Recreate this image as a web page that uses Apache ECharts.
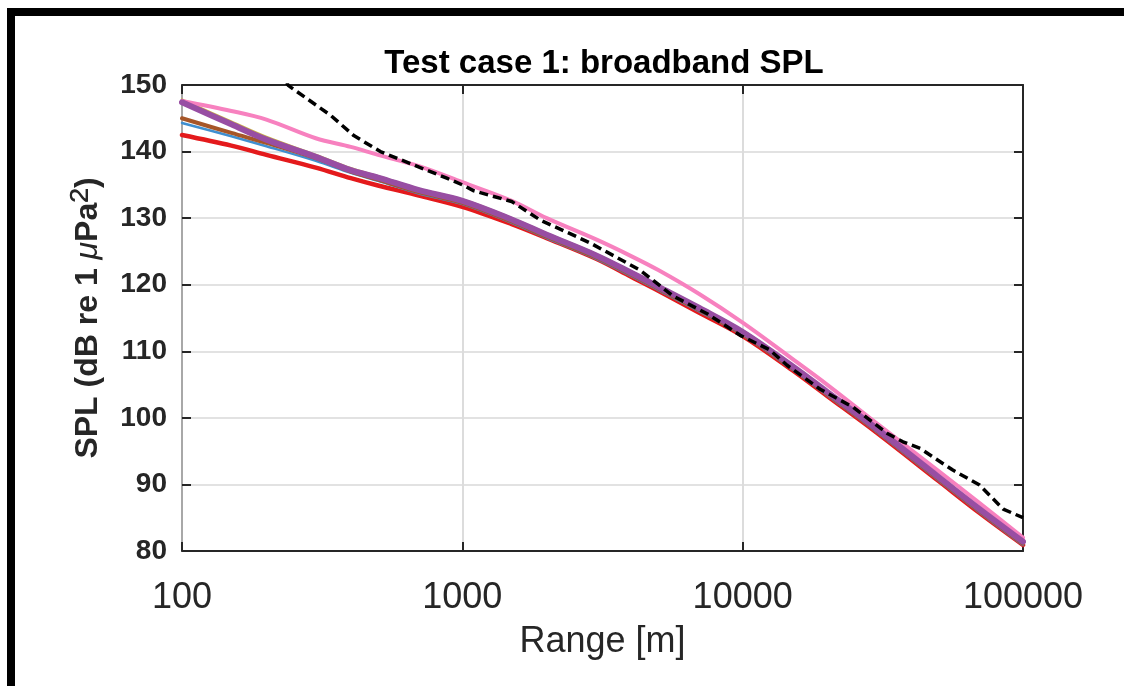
<!DOCTYPE html>
<html>
<head>
<meta charset="utf-8">
<title>Test case 1: broadband SPL</title>
<script src="https://cdn.jsdelivr.net/npm/echarts@6/dist/echarts.min.js"></script>
<style>
  html, body { margin: 0; padding: 0; background: #fff; }
  #chart { width: 1124px; height: 686px; }
</style>
</head>
<body>
<div id="chart"></div>
<script>
// Range samples (m) shared by the model curves
const ranges = [100, 150, 200, 300, 400, 500, 700, 1000, 1500, 2000, 3000, 4000, 5000, 7000, 10000, 15000, 20000, 30000, 50000, 70000, 100000];

// Broadband SPL (dB re 1 uPa^2) per model
const splRed    = [142.5, 140.9, 139.5, 137.6, 136.0, 134.9, 133.4, 131.7, 129.1, 127.0, 123.9, 121.2, 119.1, 115.8, 112.3, 107.2, 103.3, 97.8, 90.5, 85.7, 80.9];
const splBlue   = [144.3, 142.3, 140.8, 138.6, 136.8, 135.6, 133.7, 132.1, 129.3, 127.0, 123.9, 121.3, 119.2, 116.0, 112.4, 107.3, 103.4, 97.9, 90.6, 85.8, 80.9];
const splYellow = [147.8, 144.5, 142.2, 139.5, 137.5, 136.3, 134.4, 132.8, 130.0, 127.7, 124.6, 122.0, 119.9, 116.7, 113.1, 108.0, 104.1, 98.6, 91.3, 86.5, 81.6];
const splBrown  = [145.0, 142.8, 141.3, 139.0, 137.0, 135.8, 133.9, 132.3, 129.5, 127.2, 124.1, 121.5, 119.4, 116.2, 112.6, 107.5, 103.6, 98.1, 90.8, 86.0, 81.1];
const splPink   = [147.6, 146.1, 144.8, 142.0, 140.7, 139.5, 137.8, 135.4, 132.6, 130.0, 126.8, 124.3, 122.2, 118.6, 114.3, 108.9, 105.0, 99.2, 92.0, 87.2, 82.0];
const splPurple = [147.4, 144.1, 141.8, 139.2, 137.2, 136.1, 134.2, 132.6, 129.8, 127.5, 124.4, 121.8, 119.7, 116.5, 112.9, 107.8, 103.9, 98.4, 91.1, 86.3, 81.4];

// Measured (reference) SPL, black dashed
const measRanges = [220, 240, 340, 410, 510, 670, 880, 1000, 1100, 1500, 1900, 2850, 4300, 5650, 7500, 9800, 12500, 14400, 18900, 24800, 32700, 37300, 43000, 56000, 70000, 85000, 100000];
const measSpl    = [152.0, 149.9, 145.4, 142.4, 140.0, 138.0, 136.0, 135.0, 134.1, 132.5, 129.7, 126.3, 122.2, 118.3, 115.6, 112.4, 110.2, 107.9, 104.3, 101.6, 97.7, 96.4, 95.4, 92.2, 89.9, 86.3, 85.0];

// Axis ticks
const xTicks = [100, 1000, 10000, 100000];
const yMin = 80, yMax = 150, yStep = 10;

const FONT = '"Liberation Sans", Arial, Helvetica, sans-serif';
const AXIS_DARK = '#262626';

function pairs(xs, ys) { return xs.map((x, i) => [x, ys[i]]); }

function curve(name, color, width, ys) {
  return {
    name, type: 'line', xAxisIndex: 0, yAxisIndex: 0,
    data: pairs(ranges, ys),
    showSymbol: false, symbol: 'none', smooth: 0.35,
    lineStyle: { color, width, cap: 'round', join: 'round' },
    clip: true, silent: true, animation: false
  };
}

const chart = echarts.init(document.getElementById('chart'), null, { renderer: 'canvas' });

chart.setOption({
  backgroundColor: '#ffffff',
  animation: false,
  textStyle: { fontFamily: FONT },
  title: {
    text: 'Test case 1: broadband SPL',
    left: 599, top: 42, textAlign: 'center',
    textStyle: { fontFamily: FONT, fontSize: 33, fontWeight: 'bold', color: '#000' }
  },
  graphic: [
    { type: 'rect', shape: { x: 7, y: 8, width: 1117, height: 8 }, style: { fill: '#000' }, silent: true },
    { type: 'rect', shape: { x: 7, y: 8, width: 8, height: 678 }, style: { fill: '#000' }, silent: true }
  ],
  grid: { left: 182, top: 85, right: 101, bottom: 135, containLabel: false },
  xAxis: [
    {
      type: 'log', logBase: 10, min: xTicks[0], max: xTicks[xTicks.length - 1],
      position: 'bottom',
      name: 'Range [m]', nameLocation: 'middle', nameGap: 73,
      nameTextStyle: { fontFamily: FONT, fontSize: 36, color: AXIS_DARK },
      axisLine: { show: true, lineStyle: { color: AXIS_DARK, width: 2 } },
      axisTick: { show: true, inside: true, length: 9, lineStyle: { color: AXIS_DARK, width: 2 } },
      minorTick: { show: false },
      axisLabel: {
        fontFamily: FONT, fontSize: 36, color: AXIS_DARK, margin: 29,
        formatter: v => String(xTicks.find(t => Math.abs(t - v) / t < 1e-6) || Math.round(v))
      },
      splitLine: { show: true, lineStyle: { color: '#dcdcdc', width: 2 } }
    },
    {
      type: 'log', logBase: 10, min: xTicks[0], max: xTicks[xTicks.length - 1],
      position: 'top',
      axisLine: { show: true, lineStyle: { color: AXIS_DARK, width: 2 } },
      axisTick: { show: true, inside: true, length: 9, lineStyle: { color: AXIS_DARK, width: 2 } },
      axisLabel: { show: false },
      splitLine: { show: false }
    }
  ],
  yAxis: [
    {
      type: 'value', min: yMin, max: yMax, interval: yStep,
      position: 'left',
      name: 'SPL (dB re 1 {mu|μ}Pa{sup|²})', nameLocation: 'middle', nameGap: 72, nameRotate: 90,
      nameMoveOverlap: false,
      nameTextStyle: {
        fontFamily: FONT, fontSize: 32, fontWeight: 'bold', color: AXIS_DARK,
        rich: {
          mu: { fontFamily: FONT, fontSize: 32, fontStyle: 'italic', fontWeight: 'normal', color: AXIS_DARK },
          sup: { fontFamily: FONT, fontSize: 44, fontWeight: 'normal', color: AXIS_DARK }
        }
      },
      axisLine: { show: true, lineStyle: { color: '#a8a8a8', width: 2 } },
      axisTick: { show: true, inside: true, length: 9, lineStyle: { color: AXIS_DARK, width: 2 } },
      axisLabel: { fontFamily: FONT, fontSize: 28, fontWeight: 'bold', color: AXIS_DARK, margin: 15 },
      splitLine: { show: true, lineStyle: { color: '#e2e2e2', width: 2 } }
    },
    {
      type: 'value', min: yMin, max: yMax, interval: yStep,
      position: 'right',
      axisLine: { show: true, lineStyle: { color: AXIS_DARK, width: 2 } },
      axisTick: { show: true, inside: true, length: 9, lineStyle: { color: AXIS_DARK, width: 2 } },
      axisLabel: { show: false },
      splitLine: { show: false }
    }
  ],
  series: [
    curve('Model A', '#e41a1c', 4.5, splRed),
    curve('Model B', '#3f8fd0', 2.5, splBlue),
    curve('Model C', '#c9b045', 2.5, splYellow),
    curve('Model D', '#a65628', 4, splBrown),
    curve('Model E', '#f781bf', 4, splPink),
    curve('Model F', '#984ea3', 6, splPurple),
    {
      name: 'Measured', type: 'line', xAxisIndex: 0, yAxisIndex: 0,
      data: pairs(measRanges, measSpl),
      showSymbol: false, symbol: 'none', smooth: false,
      lineStyle: { color: '#000', width: 3.5, type: [9, 5] },
      clip: true, silent: true, animation: false
    }
  ]
});
</script>
</body>
</html>
